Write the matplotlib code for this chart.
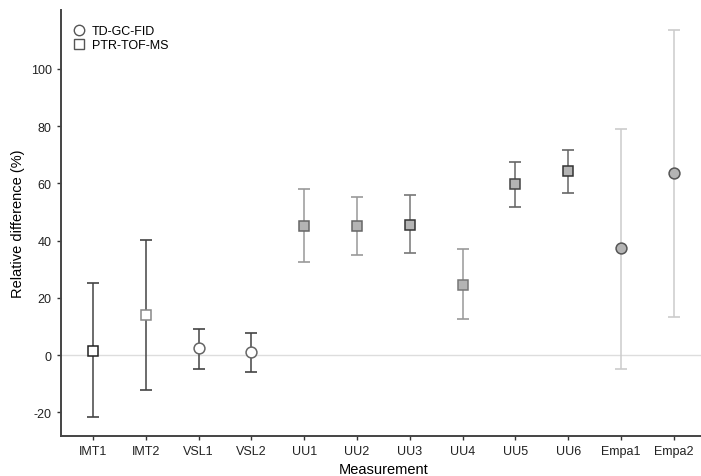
import numpy as np
import matplotlib
matplotlib.use('Agg')
import matplotlib.pyplot as plt
from matplotlib.lines import Line2D

plt.rcParams['font.family'] = ['Liberation Sans', 'DejaVu Sans']
plt.rcParams['axes.unicode_minus'] = False

labels = ['IMT1', 'IMT2', 'VSL1', 'VSL2', 'UU1', 'UU2', 'UU3', 'UU4', 'UU5', 'UU6', 'Empa1', 'Empa2']
values = [1.5, 14.0, 2.5, 1.0, 45.0, 45.0, 45.5, 24.5, 59.7, 64.2, 37.3, 63.8]
lower = [-21.6, -12.1, -4.9, -6.0, 32.6, 35.0, 35.8, 12.5, 51.9, 56.8, -5.0, 13.3]
upper = [25.1, 40.3, 9.1, 7.6, 58.0, 55.2, 56.0, 37.1, 67.5, 71.6, 79.1, 113.7]
method = ['PTR', 'PTR', 'GC', 'GC', 'PTR', 'PTR', 'PTR', 'PTR', 'PTR', 'PTR', 'GC', 'GC']

fills = ['white', 'white', 'white', 'white', '#b4b4b4', '#b4b4b4', '#b4b4b4', '#b4b4b4',
         '#b4b4b4', '#b4b4b4', '#b4b4b4', '#b4b4b4']
edges = ['#222222', '#888888', '#666666', '#666666', '#666666', '#666666', '#333333', '#777777',
         '#444444', '#333333', '#555555', '#555555']
bar_cols = ['#444444', '#444444', '#444444', '#444444', '#999999', '#999999', '#777777', '#999999',
            '#666666', '#666666', '#cccccc', '#cccccc']

fig = plt.figure(figsize=(7.01, 4.77), dpi=100)
ax = fig.add_axes([0.0866, 0.083, 0.92, 0.894])

ax.axhline(0, color='#dddddd', lw=1, zorder=0)

x = np.arange(1, len(labels) + 1)
for i in range(len(labels)):
    yerr = [[values[i] - lower[i]], [upper[i] - values[i]]]
    ax.errorbar(x[i], values[i], yerr=yerr, fmt='none', ecolor=bar_cols[i],
                elinewidth=1.1, capsize=4, capthick=1.2, zorder=2)
    mk = 's' if method[i] == 'PTR' else 'o'
    ax.plot(x[i], values[i], marker=mk, ms=7.2 if mk == 's' else 7.8, mfc=fills[i], mec=edges[i],
            mew=1.1, linestyle='none', zorder=3)

ax.set_xlim(0.39, 12.6)
ax.set_ylim(-28.4, 120.6)
ax.set_xticks(x)
ax.set_xticklabels(labels)
ax.set_yticks([-20, 0, 20, 40, 60, 80, 100])
ax.tick_params(axis='both', labelsize=9, length=3, width=1, color='#333333', labelcolor='#222222')
for s in ['top', 'right']:
    ax.spines[s].set_visible(False)
for s in ['left', 'bottom']:
    ax.spines[s].set_color('#444444')
    ax.spines[s].set_linewidth(1.4)

ax.set_xlabel('Measurement', fontsize=10.5, labelpad=3)
ax.set_ylabel('Relative difference (%)', fontsize=10.5, labelpad=4)

handles = [
    Line2D([], [], marker='o', ms=7.5, mfc='white', mec='#555555', mew=1, linestyle='none', label='TD-GC-FID'),
    Line2D([], [], marker='s', ms=7, mfc='white', mec='#555555', mew=1, linestyle='none', label='PTR-TOF-MS'),
]
ax.legend(handles=handles, loc='upper left', bbox_to_anchor=(0.0, 0.985), frameon=False,
          fontsize=9, handletextpad=0.3, labelspacing=0.15, borderaxespad=0.3, handlelength=1.5)

fig.savefig('out.png', dpi=100)
